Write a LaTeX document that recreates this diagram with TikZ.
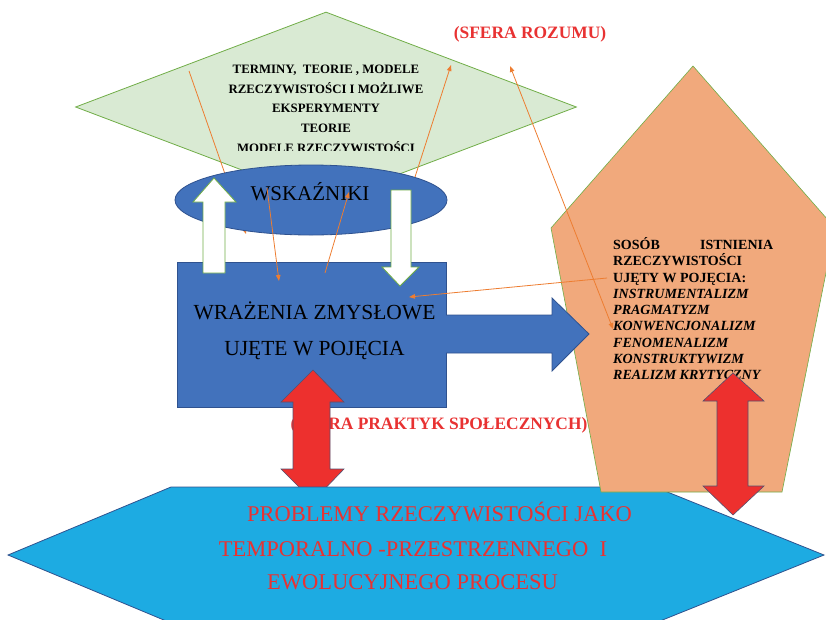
\documentclass[tikz,border=0pt]{standalone}
\usepackage{fontspec}
\setmainfont{Liberation Serif}
\usetikzlibrary{shapes.geometric,arrows.meta,positioning}
\definecolor{palegreen}{RGB}{217,234,211}
\definecolor{leafgreen}{RGB}{112,173,71}
\definecolor{boxblue}{RGB}{66,114,188}
\definecolor{edgeblue}{RGB}{47,82,143}
\definecolor{peach}{RGB}{241,169,124}
\definecolor{skyblue}{RGB}{29,171,226}
\definecolor{arrowred}{RGB}{237,48,46}
\definecolor{arrowrim}{RGB}{85,80,110}
\definecolor{redtext}{RGB}{232,50,50}
\definecolor{linkorange}{RGB}{237,125,49}

\tikzset{
  link/.style={linkorange, line width=0.8pt, -{Triangle[length=6pt,width=4.5pt]}},
  whitearrow/.style={fill=white, draw=leafgreen, line width=0.8pt},
  redarrow/.style={fill=arrowred, draw=arrowrim, line width=0.6pt},
  sferatext/.style={text=redtext, anchor=base, inner sep=0pt, font=\fontsize{17.4}{20}\selectfont\bfseries},
  bluetext/.style={anchor=base, inner sep=0pt, font=\fontsize{21.5}{24}\selectfont},
  hextext/.style={text=redtext, anchor=base, inner sep=0pt, font=\fontsize{22.5}{26}\selectfont}
}

\begin{document}
\begin{tikzpicture}[x=1pt, y=-1pt]
  \useasboundingbox (0,0) rectangle (826,619);
  \clip (0,0) rectangle (826,619);

  % sfera rozumu
  \node[diamond, draw=leafgreen, fill=palegreen, line width=0.8pt, minimum width=501pt, minimum height=190pt, inner sep=0pt] (rozum) at (326,107) {};
  \begin{scope}
    \clip (200,50) rectangle (450,150);
    \node[anchor=base, align=center, inner sep=0pt, font=\fontsize{12.8}{19.8}\selectfont\bfseries] (terminy) at (326,152.4)
      {TERMINY,~~TEORIE , MODELE\\ RZECZYWISTOŚCI I MOŻLIWE\\ EKSPERYMENTY\\ TEORIE\\ MODELE RZECZYWISTOŚCI};
  \end{scope}
  \coordinate (a1) at (189,71);
  \coordinate (a2) at (246,234);
  \draw[link] (a1) -- (a2);

  % wskazniki
  \node[ellipse, draw=edgeblue, fill=boxblue, line width=0.8pt, minimum width=272pt, minimum height=70pt, inner sep=0pt] (wsk) at (311,200) {};
  \node[bluetext, font=\fontsize{21}{24}\selectfont] (wsktext) at (310,200) {WSKAŹNIKI};

  % wrazenia
  \node[draw=edgeblue, fill=boxblue, line width=0.8pt, minimum width=269pt, minimum height=145pt, inner sep=0pt] (wrazenia) at (311.5,334.5) {};
  \node[bluetext] (wraz1) at (314.5,319) {WRAŻENIA ZMYSŁOWE};
  \node[bluetext] (wraz2) at (314.5,355) {UJĘTE W POJĘCIA};

  \node[sferatext] (sferapraktyk) at (439,429) {(SFERA PRAKTYK SPOŁECZNYCH)};
  \filldraw[redarrow] (313,370) -- (344,402) -- (330,402) -- (330,469) -- (344,469) -- (313,501)
    -- (281,469) -- (293,469) -- (293,402) -- (281,402) -- cycle;

  % problemy
  \filldraw[fill=skyblue, draw=edgeblue, line width=0.8pt] (8,555) -- (171,487) -- (655,487) -- (824,555) -- (655,623) -- (171,623) -- cycle;
  \node[hextext] (problemy1) at (439.5,521.5) {PROBLEMY RZECZYWISTOŚCI JAKO};
  \node[hextext] (problemy2) at (413,556.5) {TEMPORALNO -PRZESTRZENNEGO~~I};
  \node[hextext] (problemy3) at (412.5,589.5) {EWOLUCYJNEGO PROCESU};

  % sposob istnienia
  \filldraw[fill=peach, draw=leafgreen, line width=0.6pt] (693,66) -- (835,228) -- (782,492) -- (601,492) -- (551,228) -- cycle;
  \node[anchor=base west, align=left, inner sep=0pt, font=\fontsize{14}{16.25}\selectfont\bfseries] (sposob) at (613,379.5)
    {\makebox[160pt][l]{SOSÓB\hfill ISTNIENIA}\\ RZECZYWISTOŚCI\\ UJĘTY W POJĘCIA:\\
     \textit{INSTRUMENTALIZM}\\ \textit{PRAGMATYZM}\\ \textit{KONWENCJONALIZM}\\
     \textit{FENOMENALIZM}\\ \textit{KONSTRUKTYWIZM}\\ \textit{REALIZM KRYTYCZNY}};

  \fill[boxblue] (440,315) -- (552,315) -- (552,298) -- (589,334) -- (552,371) -- (552,353) -- (440,353) -- cycle;
  \draw[edgeblue, line width=0.8pt] (446,315) -- (552,315) -- (552,298) -- (589,334) -- (552,371) -- (552,353) -- (446,353);

  \filldraw[whitearrow] (203,273) -- (203,202) -- (193,202) -- (214,178) -- (236,202) -- (225,202) -- (225,273) -- cycle;
  \filldraw[whitearrow] (391,190) -- (411,190) -- (411,267) -- (419,267) -- (400,286) -- (382,267) -- (391,267) -- cycle;

  \node[sferatext] (sferarozumu) at (530,38.7) {(SFERA ROZUMU)};

  \filldraw[redarrow] (733,373) -- (764,401) -- (748,401) -- (748,486) -- (764,486) -- (733,515)
    -- (703,486) -- (717,486) -- (717,401) -- (703,401) -- cycle;

  \coordinate (b1) at (267,188);
  \coordinate (b2) at (279,281);
  \coordinate (c1) at (325,273);
  \coordinate (c2) at (349,192);
  \coordinate (d1) at (415,177);
  \coordinate (d2) at (451,65);
  \coordinate (e1) at (607,278);
  \coordinate (e2) at (409,297);
  \coordinate (f1) at (510,66);
  \coordinate (f2) at (613,329);
  \draw[link] (b1) -- (b2);
  \draw[link] (c1) -- (c2);
  \draw[link] (d1) -- (d2);
  \draw[link] (e1) -- (e2);
  \draw[link, {Triangle[length=6pt,width=4.5pt]}-{Triangle[length=6pt,width=4.5pt]}] (f1) -- (f2);
\end{tikzpicture}
\end{document}
